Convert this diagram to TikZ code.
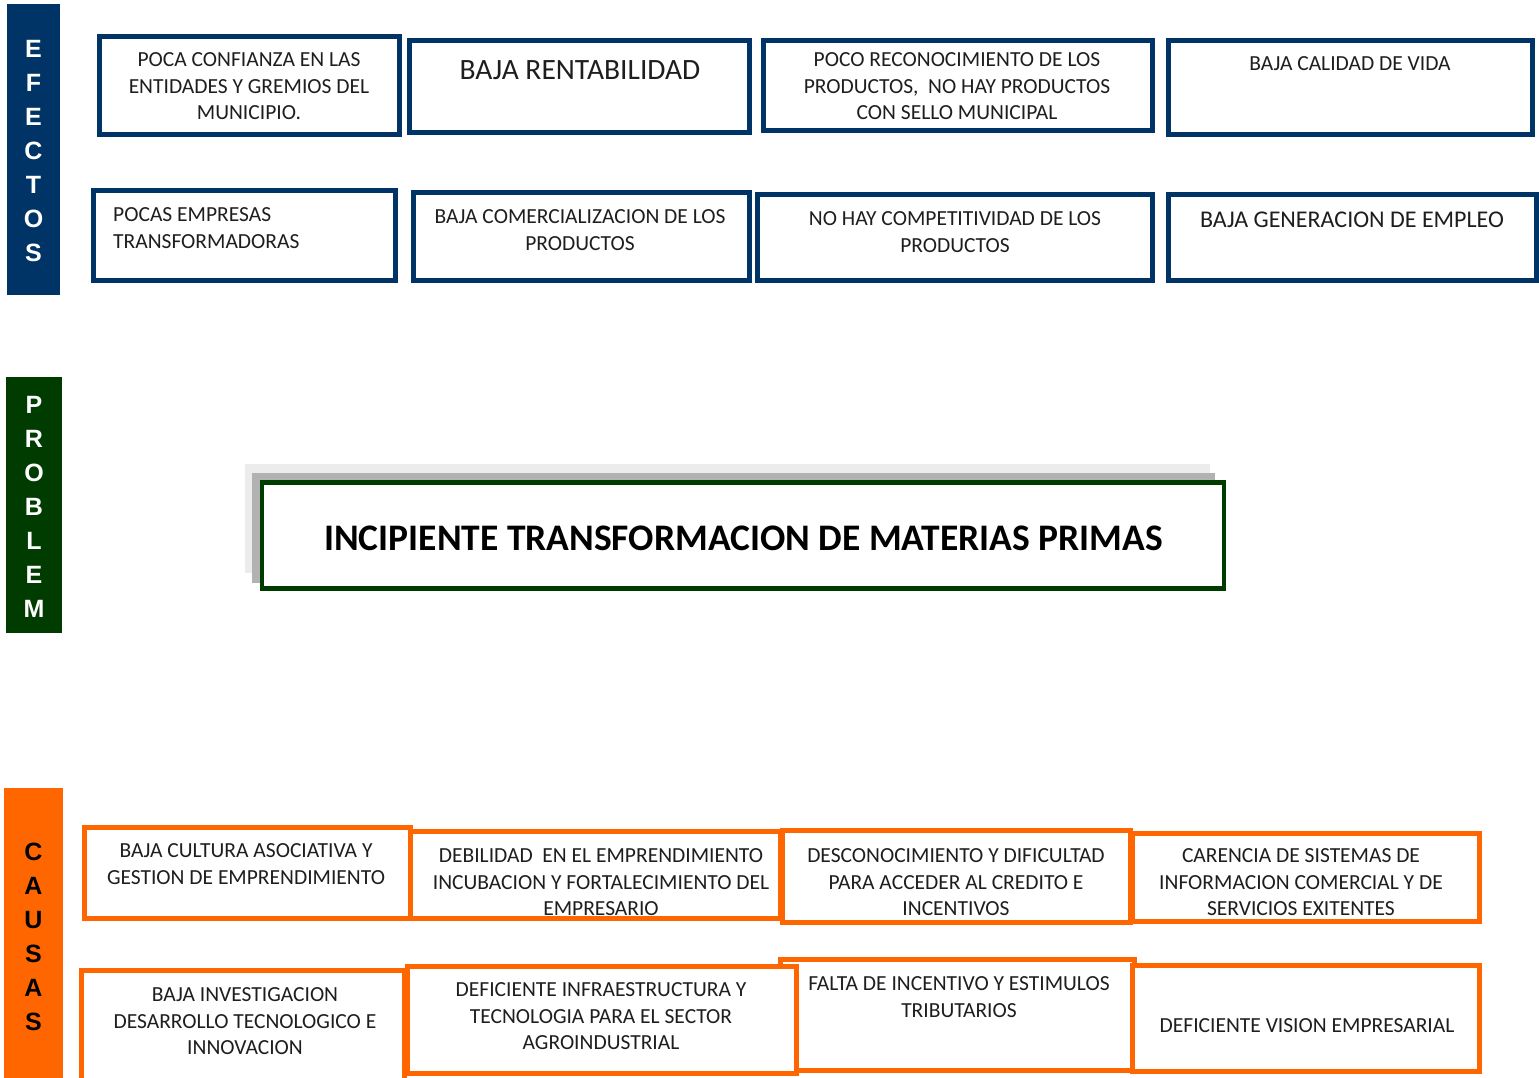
\documentclass[tikz,border=0pt]{standalone}
\usepackage{fontspec}
\setmainfont{Carlito}
\newfontfamily\barfont{Liberation Sans}
\usetikzlibrary{fit}
\definecolor{navy}{RGB}{0,51,102}
\definecolor{dgreen}{RGB}{0,60,0}
\definecolor{orng}{RGB}{255,102,0}
\definecolor{txtc}{RGB}{30,30,30}
\definecolor{shadowA}{RGB}{236,236,236}
\definecolor{shadowB}{RGB}{178,178,178}
\begin{document}
\begin{tikzpicture}[x=1pt,y=-1pt,
  ebox/.style={draw=navy, line width=5pt, inner sep=0pt, fill=white},
  cbox/.style={draw=orng, line width=5pt, inner sep=0pt, fill=white},
  bar/.style={inner sep=0pt, draw=none},
  barlbl/.style={font=\barfont\bfseries\fontsize{25}{34}\selectfont, align=center, inner sep=0pt},
  txt/.style={font=\fontsize{21.5}{26.5}\selectfont, text=txtc, align=center, inner sep=0pt},
  txtl/.style={font=\fontsize{21.5}{26.5}\selectfont, text=txtc, align=left, inner sep=0pt}
]
\useasboundingbox (0,0) rectangle (1539,1077);
\fill[white] (0,0) rectangle (1539,1077);

% side bars
\node[bar, fill=navy, fit={(7,4) (60,295)}] (barE) {};
\node[barlbl, text=white] (lblE) at (33.5,151.5) {E\\F\\E\\C\\T\\O\\S};
\node[bar, fill=dgreen, fit={(6,377) (62,633)}] (barP) {};
\node[barlbl, text=white] (lblP) at (34,507) {P\\R\\O\\B\\L\\E\\M};
\begin{scope}
\clip (0,0) rectangle (1539,1077);
\node[bar, fill=orng, fit={(4,788) (63,1090)}] (barC) {};
\end{scope}
\node[barlbl, text=black] (lblC) at (33.5,937) {C\\A\\U\\S\\A\\S};

% effects
\node[ebox, fit={(99.5,36.5) (399.5,134.5)}] (e1) {};
\node[ebox, fit={(409.5,40.5) (749.5,132.5)}] (e2) {};
\node[ebox, fit={(763.5,40.5) (1152.5,130.5)}] (e3) {};
\node[ebox, fit={(1168.5,40.5) (1532.5,134.5)}] (e4) {};
\node[ebox, fit={(93.5,190.5) (395.5,280.5)}] (e5) {};
\node[ebox, fit={(413.5,192.5) (749.5,280.5)}] (e6) {};
\node[ebox, fit={(757.5,194.5) (1152.5,280.5)}] (e7) {};
\node[ebox, fit={(1168.5,194.5) (1536.5,280.5)}] (e8) {};

\node[txt] (te1) at (249,86.5) {POCA CONFIANZA EN LAS\\ENTIDADES Y GREMIOS DEL\\MUNICIPIO.};
\node[txt, font=\fontsize{29.5}{32}\selectfont] (te2) at (580,70) {BAJA RENTABILIDAD};
\node[txt] (te3) at (957,86.5) {POCO RECONOCIMIENTO DE LOS\\PRODUCTOS,\ \ NO HAY PRODUCTOS\\CON SELLO MUNICIPAL};
\node[txt] (te4) at (1350,64) {BAJA CALIDAD DE VIDA};
\node[txtl, anchor=west] (te5) at (113,228) {POCAS EMPRESAS\\TRANSFORMADORAS};
\node[txt] (te6) at (580,230) {BAJA COMERCIALIZACION DE LOS\\PRODUCTOS};
\node[txt] (te7) at (955,232) {NO HAY COMPETITIVIDAD DE LOS\\PRODUCTOS};
\node[txt, font=\fontsize{24}{28}\selectfont] (te8) at (1352,220) {BAJA GENERACION DE EMPLEO};

% problem
\node[bar, fill=shadowA, fit={(245,464) (1210,573)}] (sh1) {};
\node[bar, fill=shadowB, fit={(252,473) (1215,583)}] (sh2) {};
\node[draw=dgreen, line width=4.5pt, fill=white, inner sep=0pt, fit={(262,482.5) (1224,588.5)}] (prob) {};
\node[txt, text=black, font=\bfseries\fontsize{37.5}{40}\selectfont] (tprob) at (743.5,538) {INCIPIENTE TRANSFORMACION DE MATERIAS PRIMAS};

% causes
\begin{scope}
\clip (0,0) rectangle (1539,1077);
\node[cbox, fit={(407.5,831.5) (780.5,918.5)}] (c2) {};
\node[cbox, fit={(84.5,827.5) (410.5,918.5)}] (c1) {};
\node[cbox, fit={(1132.5,833.5) (1479.5,921.5)}] (c4) {};
\node[cbox, fit={(782.5,830.5) (1130.5,922.5)}] (c3) {};
\node[cbox, fit={(81.5,970.5) (404.5,1090)}] (c5) {};
\node[cbox, fit={(780.5,959.5) (1134.5,1070.5)}] (c7) {};
\node[cbox, fit={(407.5,966.5) (796.5,1073.5)}] (c6) {};
\node[cbox, fit={(1132.5,965.5) (1479.5,1071.5)}] (c8) {};
\end{scope}

\node[txt] (tc1) at (246,864) {BAJA CULTURA ASOCIATIVA Y\\GESTION DE EMPRENDIMIENTO};
\node[txt] (tc2) at (601,882.5) {DEBILIDAD\ \ EN EL EMPRENDIMIENTO\\INCUBACION Y FORTALECIMIENTO DEL\\EMPRESARIO};
\node[txt] (tc3) at (956,882.5) {DESCONOCIMIENTO Y DIFICULTAD\\PARA ACCEDER AL CREDITO E\\INCENTIVOS};
\node[txt] (tc4) at (1301,882.5) {CARENCIA DE SISTEMAS DE\\INFORMACION COMERCIAL Y DE\\SERVICIOS EXITENTES};
\node[txt] (tc5) at (245,1021.5) {BAJA INVESTIGACION\\DESARROLLO TECNOLOGICO E\\INNOVACION};
\node[txt] (tc6) at (601,1016.5) {DEFICIENTE INFRAESTRUCTURA Y\\TECNOLOGIA PARA EL SECTOR\\AGROINDUSTRIAL};
\node[txt] (tc7) at (959,997) {FALTA DE INCENTIVO Y ESTIMULOS\\TRIBUTARIOS};
\node[txt] (tc8) at (1307,1026) {DEFICIENTE VISION EMPRESARIAL};
\end{tikzpicture}
\end{document}
